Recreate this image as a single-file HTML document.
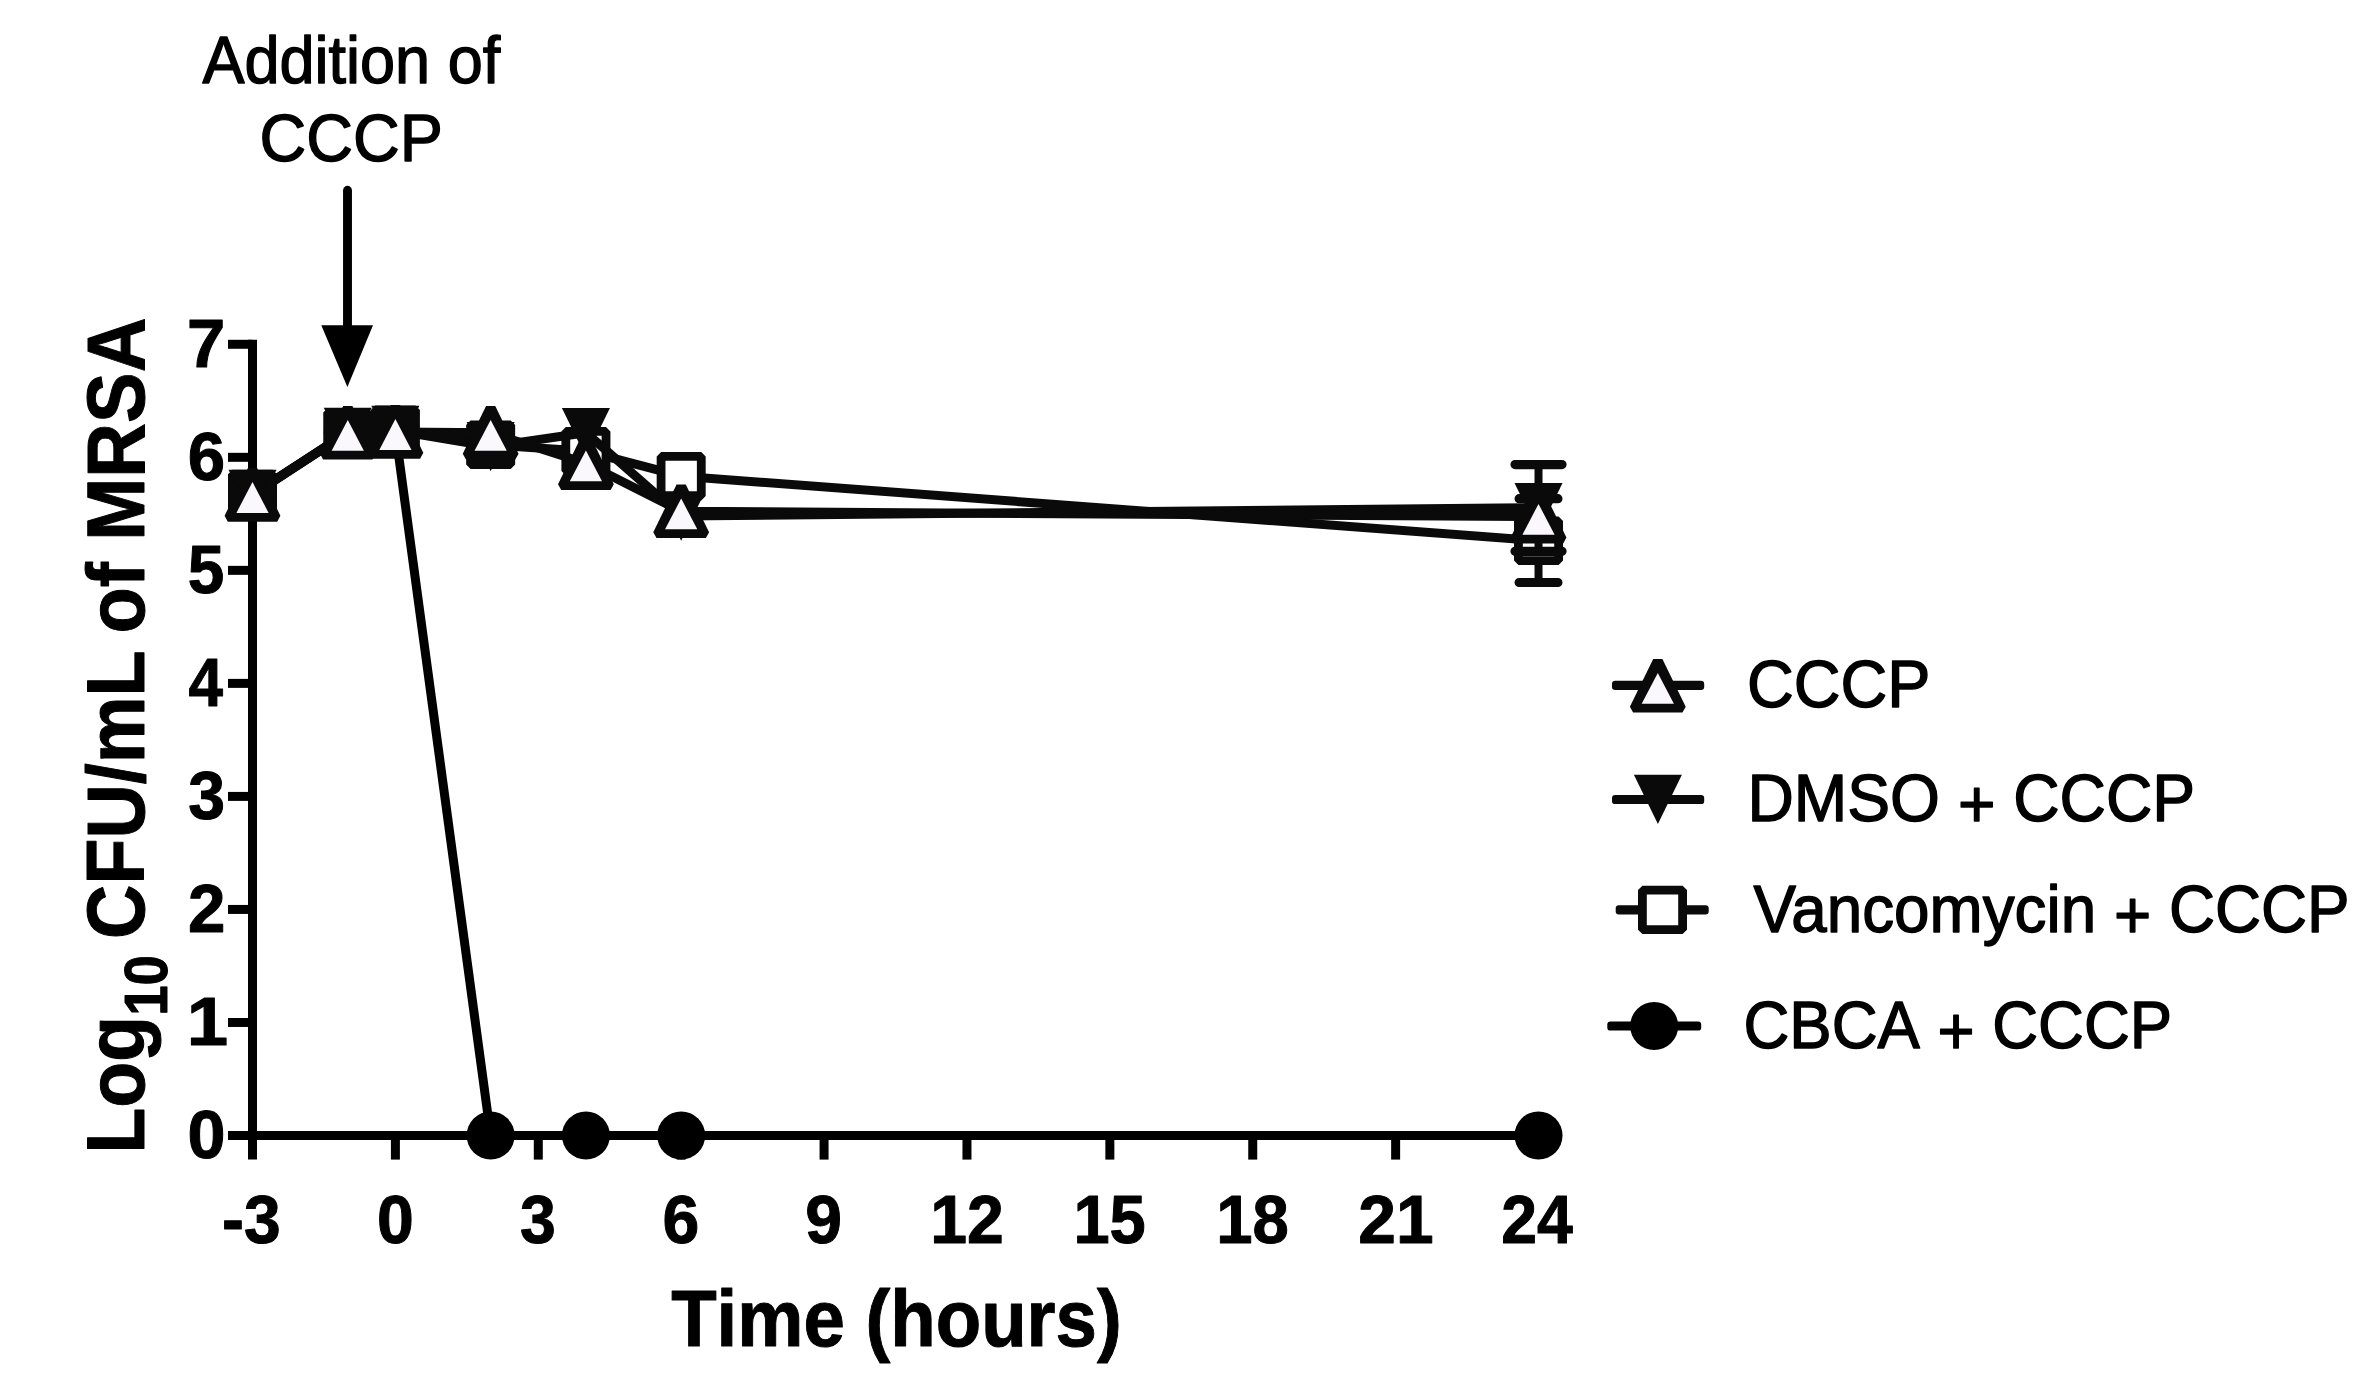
<!DOCTYPE html>
<html><head><meta charset="utf-8"><title>Time-kill chart</title>
<style>
html,body{margin:0;padding:0;background:#fff}
svg{display:block}
text{font-family:"Liberation Sans",Arial,Helvetica,sans-serif;fill:#000;font-kerning:none}
</style></head>
<body>
<svg width="2369" height="1398" viewBox="0 0 2369 1398">
<rect width="2369" height="1398" fill="#fff"/>
<g stroke="#000" stroke-width="9.0" fill="none">
<path d="M252.51,339.79 V1159.6"/>
<path d="M228,1135.50 H1538.52"/>
<path d="M228,1022.47 H252.51"/>
<path d="M228,909.44 H252.51"/>
<path d="M228,796.41 H252.51"/>
<path d="M228,683.38 H252.51"/>
<path d="M228,570.35 H252.51"/>
<path d="M228,457.32 H252.51"/>
<path d="M228,344.29 H252.51"/>
<path d="M395.40,1135.50 V1159.6"/>
<path d="M538.29,1135.50 V1159.6"/>
<path d="M681.18,1135.50 V1159.6"/>
<path d="M824.07,1135.50 V1159.6"/>
<path d="M966.96,1135.50 V1159.6"/>
<path d="M1109.85,1135.50 V1159.6"/>
<path d="M1252.74,1135.50 V1159.6"/>
<path d="M1395.63,1135.50 V1159.6"/>
</g>
<text transform="translate(187.04,366.59) scale(1.0163,1)" font-size="67.73" font-weight="bold" stroke="#000" stroke-width="1.0" stroke-linejoin="round">7</text>
<text transform="translate(187.64,479.62) scale(0.9926,1)" font-size="67.73" font-weight="bold" stroke="#000" stroke-width="1.0" stroke-linejoin="round">6</text>
<text transform="translate(187.68,592.65) scale(0.9703,1)" font-size="67.73" font-weight="bold" stroke="#000" stroke-width="1.0" stroke-linejoin="round">5</text>
<text transform="translate(188.46,705.68) scale(0.9151,1)" font-size="67.73" font-weight="bold" stroke="#000" stroke-width="1.0" stroke-linejoin="round">4</text>
<text transform="translate(188.28,818.71) scale(0.9772,1)" font-size="67.73" font-weight="bold" stroke="#000" stroke-width="1.0" stroke-linejoin="round">3</text>
<text transform="translate(187.97,931.74) scale(0.9936,1)" font-size="67.73" font-weight="bold" stroke="#000" stroke-width="1.0" stroke-linejoin="round">2</text>
<text transform="translate(186.71,1044.77) scale(1.0992,1)" font-size="67.73" font-weight="bold" stroke="#000" stroke-width="1.0" stroke-linejoin="round">1</text>
<text transform="translate(187.50,1157.80) scale(1.0089,1)" font-size="67.73" font-weight="bold" stroke="#000" stroke-width="1.0" stroke-linejoin="round">0</text>
<text transform="translate(222.02,1243.10) scale(0.9740,1)" font-size="67.73" font-weight="bold" stroke="#000" stroke-width="1.0" stroke-linejoin="round">-3</text>
<text transform="translate(376.98,1243.10) scale(0.9779,1)" font-size="67.73" font-weight="bold" stroke="#000" stroke-width="1.0" stroke-linejoin="round">0</text>
<text transform="translate(520.02,1243.10) scale(0.9504,1)" font-size="67.73" font-weight="bold" stroke="#000" stroke-width="1.0" stroke-linejoin="round">3</text>
<text transform="translate(662.58,1243.10) scale(0.9773,1)" font-size="67.73" font-weight="bold" stroke="#000" stroke-width="1.0" stroke-linejoin="round">6</text>
<text transform="translate(805.21,1243.10) scale(0.9754,1)" font-size="67.73" font-weight="bold" stroke="#000" stroke-width="1.0" stroke-linejoin="round">9</text>
<text transform="translate(930.13,1243.10) scale(0.9771,1)" font-size="67.73" font-weight="bold" stroke="#000" stroke-width="1.0" stroke-linejoin="round">12</text>
<text transform="translate(1073.41,1243.10) scale(0.9597,1)" font-size="67.73" font-weight="bold" stroke="#000" stroke-width="1.0" stroke-linejoin="round">15</text>
<text transform="translate(1216.19,1243.10) scale(0.9639,1)" font-size="67.73" font-weight="bold" stroke="#000" stroke-width="1.0" stroke-linejoin="round">18</text>
<text transform="translate(1358.35,1243.10) scale(0.9996,1)" font-size="67.73" font-weight="bold" stroke="#000" stroke-width="1.0" stroke-linejoin="round">21</text>
<text transform="translate(1501.27,1243.10) scale(0.9500,1)" font-size="67.73" font-weight="bold" stroke="#000" stroke-width="1.0" stroke-linejoin="round">24</text>
<text transform="translate(671.16,1346.40) scale(0.9258,1)" font-size="80.38" font-weight="bold" stroke="#000" stroke-width="1.0" stroke-linejoin="round">Time (hours)</text>
<text transform="translate(144.20,1153.52) rotate(-90) scale(0.9295,1)" font-size="80.82" font-weight="bold" stroke="#000" stroke-width="1.0" stroke-linejoin="round">Log</text>
<text transform="translate(167.10,1015.85) rotate(-90) scale(0.8862,1)" font-size="61.77" font-weight="bold" stroke="#000" stroke-width="1.0" stroke-linejoin="round">10</text>
<text transform="translate(144.20,938.89) rotate(-90) scale(0.9314,1)" font-size="80.82" font-weight="bold" stroke="#000" stroke-width="1.0" stroke-linejoin="round">CFU/mL</text>
<text transform="translate(144.20,633.46) rotate(-90) scale(0.9375,1)" font-size="80.82" font-weight="bold" stroke="#000" stroke-width="1.0" stroke-linejoin="round">of</text>
<text transform="translate(144.20,540.77) rotate(-90) scale(0.9379,1)" font-size="80.82" font-weight="bold" stroke="#000" stroke-width="1.0" stroke-linejoin="round">MRSA</text>
<text transform="translate(202.38,83.20) scale(0.9348,1)" font-size="67.44" stroke="#000" stroke-width="1.4" stroke-linejoin="round">Addition of</text>
<text transform="translate(259.52,161.10) scale(0.9592,1)" font-size="67.44" stroke="#000" stroke-width="1.4" stroke-linejoin="round">CCCP</text>
<path d="M347.5,190.3 V330" stroke="#000" stroke-width="8.9" stroke-linecap="round" fill="none"/>
<path d="M321.3,325.2 H373 L347.4,387 Z" fill="#000"/>
<path d="M1538.52,498.70 V582.50" stroke="#0a0a0a" stroke-width="8" fill="none"/><path d="M1519.12,498.70 H1557.92 M1519.12,582.50 H1557.92" stroke="#0a0a0a" stroke-width="9.2" stroke-linecap="round" fill="none"/>
<path d="M252.51,494.00 L347.77,432.20 L395.40,429.80 L490.66,444.80 L585.92,451.20 L681.18,476.20 L1538.52,540.80" fill="none" stroke="#0a0a0a" stroke-width="9" stroke-linejoin="round"/>
<rect x="232.41" y="474.20" width="40.2" height="39.6" fill="#0a0a0a" stroke="#0a0a0a" stroke-width="8.8" stroke-linejoin="bevel"/>
<rect x="327.67" y="412.40" width="40.2" height="39.6" fill="#0a0a0a" stroke="#0a0a0a" stroke-width="8.8" stroke-linejoin="bevel"/>
<rect x="375.30" y="410.00" width="40.2" height="39.6" fill="#0a0a0a" stroke="#0a0a0a" stroke-width="8.8" stroke-linejoin="bevel"/>
<rect x="470.56" y="425.00" width="40.2" height="39.6" fill="#0a0a0a" stroke="#0a0a0a" stroke-width="8.8" stroke-linejoin="bevel"/>
<rect x="565.82" y="431.40" width="40.2" height="39.6" fill="#fff" stroke="#0a0a0a" stroke-width="8.8" stroke-linejoin="bevel"/>
<rect x="661.08" y="456.40" width="40.2" height="39.6" fill="#fff" stroke="#0a0a0a" stroke-width="8.8" stroke-linejoin="bevel"/>
<rect x="1518.42" y="521.00" width="40.2" height="39.6" fill="#fff" stroke="#0a0a0a" stroke-width="8.8" stroke-linejoin="bevel"/>
<path d="M252.51,494.50 L347.77,432.50 L395.40,431.50 L490.66,1135.50 L585.92,1135.50 L681.18,1135.50 L1538.52,1135.50" fill="none" stroke="#000" stroke-width="9" stroke-linejoin="round"/>
<circle cx="252.51" cy="494.50" r="24" fill="#0a0a0a"/>
<circle cx="347.77" cy="432.50" r="24" fill="#0a0a0a"/>
<circle cx="395.40" cy="431.50" r="24" fill="#0a0a0a"/>
<circle cx="490.66" cy="1135.50" r="24" fill="#000"/>
<circle cx="585.92" cy="1135.50" r="24" fill="#000"/>
<circle cx="681.18" cy="1135.50" r="24" fill="#000"/>
<circle cx="1538.52" cy="1135.50" r="24" fill="#000"/>
<path d="M1538.52,464.60 V551.30" stroke="#0a0a0a" stroke-width="8" fill="none"/><path d="M1515.02,464.60 H1562.02 M1515.02,551.30 H1562.02" stroke="#0a0a0a" stroke-width="9.2" stroke-linecap="round" fill="none"/>
<path d="M252.51,494.50 L347.77,432.50 L395.40,430.50 L490.66,446.60 L585.92,432.70 L681.18,516.10 L1538.52,507.70" fill="none" stroke="#0a0a0a" stroke-width="9" stroke-linejoin="round"/>
<path d="M228.51,469.85 H276.51 L252.51,519.15 Z" fill="#0a0a0a"/>
<path d="M323.77,407.85 H371.77 L347.77,457.15 Z" fill="#0a0a0a"/>
<path d="M371.40,405.85 H419.40 L395.40,455.15 Z" fill="#0a0a0a"/>
<path d="M466.66,421.95 H514.66 L490.66,471.25 Z" fill="#0a0a0a"/>
<path d="M561.92,408.05 H609.92 L585.92,457.35 Z" fill="#0a0a0a"/>
<path d="M657.18,491.45 H705.18 L681.18,540.75 Z" fill="#0a0a0a"/>
<path d="M1514.52,483.05 H1562.52 L1538.52,532.35 Z" fill="#0a0a0a"/>
<path d="M252.51,494.90 L347.77,432.70 L395.40,431.90 L490.66,432.80 L585.92,463.30 L681.18,511.30 L1538.52,516.70" fill="none" stroke="#0a0a0a" stroke-width="9" stroke-linejoin="round"/>
<polygon points="247.91,468.10 257.11,468.10 280.41,515.80 277.21,521.70 227.81,521.70 224.61,515.80" fill="#0a0a0a"/><polygon points="252.51,482.10 268.61,512.90 236.41,512.90" fill="#faf8fd"/>
<polygon points="343.17,405.90 352.37,405.90 375.67,453.60 372.47,459.50 323.07,459.50 319.87,453.60" fill="#0a0a0a"/><polygon points="347.77,419.90 363.87,450.70 331.67,450.70" fill="#faf8fd"/>
<polygon points="390.80,405.10 400.00,405.10 423.30,452.80 420.10,458.70 370.70,458.70 367.50,452.80" fill="#0a0a0a"/><polygon points="395.40,419.10 411.50,449.90 379.30,449.90" fill="#faf8fd"/>
<polygon points="486.06,406.00 495.26,406.00 518.56,453.70 515.36,459.60 465.96,459.60 462.76,453.70" fill="#0a0a0a"/><polygon points="490.66,420.00 506.76,450.80 474.56,450.80" fill="#faf8fd"/>
<polygon points="581.32,436.50 590.52,436.50 613.82,484.20 610.62,490.10 561.22,490.10 558.02,484.20" fill="#0a0a0a"/><polygon points="585.92,450.50 602.02,481.30 569.82,481.30" fill="#faf8fd"/>
<polygon points="676.58,484.50 685.78,484.50 709.08,532.20 705.88,538.10 656.48,538.10 653.28,532.20" fill="#0a0a0a"/><polygon points="681.18,498.50 697.28,529.30 665.08,529.30" fill="#faf8fd"/>
<polygon points="1533.92,489.90 1543.12,489.90 1566.42,537.60 1563.22,543.50 1513.82,543.50 1510.62,537.60" fill="#0a0a0a"/><polygon points="1538.52,503.90 1554.62,534.70 1522.42,534.70" fill="#faf8fd"/>
<rect x="1612.00" y="680.70" width="92.20" height="9.2" rx="3.2" fill="#0a0a0a"/>
<polygon points="1653.20,659.00 1662.40,659.00 1685.70,706.70 1682.50,712.60 1633.10,712.60 1629.90,706.70" fill="#0a0a0a"/><polygon points="1657.80,673.00 1673.90,703.80 1641.70,703.80" fill="#faf8fd"/>
<rect x="1612.00" y="794.90" width="92.20" height="9.2" rx="3.2" fill="#0a0a0a"/>
<path d="M1633.90,774.70 H1681.90 L1657.90,824.00 Z" fill="#0a0a0a"/>
<rect x="1615.70" y="905.30" width="93.00" height="9.2" rx="3.2" fill="#0a0a0a"/>
<rect x="1642.40" y="890.10" width="40.2" height="39.6" fill="#fff" stroke="#0a0a0a" stroke-width="8.8" stroke-linejoin="bevel"/>
<rect x="1607.30" y="1021.40" width="93.90" height="9.2" rx="3.2" fill="#000"/>
<circle cx="1654.20" cy="1026.00" r="24" fill="#000"/>
<text transform="translate(1747.01,706.90) scale(0.9644,1)" font-size="67.15" stroke="#000" stroke-width="1.4" stroke-linejoin="round">CCCP</text>
<text transform="translate(1747.43,821.10) scale(0.9562,1)" font-size="67.15" stroke="#000" stroke-width="1.4" stroke-linejoin="round" dy="0 0 0 0 0 5.6 -5.6">DMSO + CCCP</text>
<text transform="translate(1753.42,931.90) scale(0.9500,1)" font-size="67.15" stroke="#000" stroke-width="1.4" stroke-linejoin="round" dx="0 -4.97" dy="0 0 0 0 0 0 0 0 0 0 0 5.6 -5.6">Vancomycin + CCCP</text>
<text transform="translate(1743.48,1048.10) scale(0.9455,1)" font-size="67.15" stroke="#000" stroke-width="1.4" stroke-linejoin="round" dy="0 0 0 0 0 5.6 -5.6">CBCA + CCCP</text>
</svg>
</body></html>
